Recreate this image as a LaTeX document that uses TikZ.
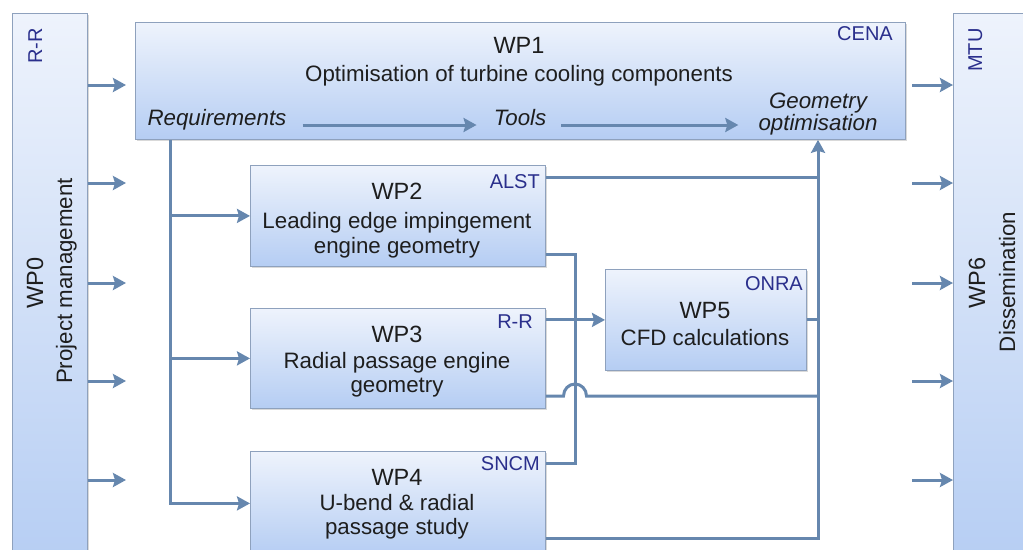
\documentclass[tikz,border=0pt]{standalone}
\usepackage{fontspec}
\setmainfont{Liberation Sans}
\usetikzlibrary{arrows.meta,shadows}
\definecolor{boxtop}{HTML}{EEF3FC}
\definecolor{boxbot}{HTML}{B5CDF3}
\definecolor{bordc}{HTML}{8EA1BD}
\definecolor{linec}{HTML}{6687AE}
\definecolor{navy}{HTML}{2A2F8C}
\definecolor{txtc}{HTML}{1E1E1E}
\begin{document}
\begin{tikzpicture}[x=1pt,y=-1pt,
  box/.style={draw=bordc, line width=0.8pt, top color=boxtop, bottom color=boxbot,
    anchor=north west, inner sep=0pt,
    drop shadow={shadow xshift=2pt, shadow yshift=-2pt, opacity=0.25, fill=black!60}},
  conn/.style={draw=linec, line width=3pt},
  arr/.style={conn, -{Stealth[length=13pt,width=14pt,inset=2pt]}},
  ttl/.style={font=\fontsize{23.5}{24}\selectfont, text=txtc, anchor=base, inner sep=0pt},
  body/.style={font=\fontsize{22.3}{24}\selectfont, text=txtc, anchor=base, inner sep=0pt},
  ibody/.style={body, font=\fontsize{22.3}{24}\selectfont\itshape},
  lab/.style={font=\fontsize{20}{20}\selectfont, text=navy, anchor=base east, inner sep=0pt},
  rlab/.style={font=\fontsize{20}{20}\selectfont, text=navy, anchor=base, inner sep=0pt, rotate=90},
]
\useasboundingbox (0,0) rectangle (1023,549);
\clip (0,0) rectangle (1023,549);

% boxes
\node[box, minimum width=75pt, minimum height=560pt] (wp0) at (12,13) {};
\node[box, minimum width=770pt, minimum height=117pt] (wp1) at (135,22) {};
\node[box, minimum width=90pt, minimum height=560pt] (wp6) at (953,13) {};
\node[box, minimum width=295pt, minimum height=101pt] (wp2) at (250,165) {};
\node[box, minimum width=295pt, minimum height=100pt] (wp3) at (250,308) {};
\node[box, minimum width=295pt, minimum height=104pt] (wp4) at (250,451) {};
\node[box, minimum width=201pt, minimum height=101pt] (wp5) at (605,269) {};

% WP0 texts
\node[rlab] (rr0) at (42,46) {R-R};
\node[ttl, rotate=90] (wp0t) at (43,283) {WP0};
\node[body, rotate=90] (wp0d) at (72,281) {Project management};

% WP6 texts
\node[rlab] (mtu) at (982,50) {MTU};
\node[ttl, rotate=90] (wp6t) at (985,283) {WP6};
\node[body, rotate=90] (wp6d) at (1015,282) {Dissemination};

% WP1 texts
\node[ttl] (wp1t) at (519,53) {WP1};
\node[body] (wp1d) at (519,81) {Optimisation of turbine cooling components};
\node[lab] (cena) at (893,40) {CENA};
\node[ibody] (req) at (217,125) {Requirements};
\node[ibody] (tools) at (520,125) {Tools};
\node[ibody] (geo1) at (818,108) {Geometry};
\node[ibody] (geo2) at (818,130) {optimisation};

% WP2
\node[ttl] (wp2t) at (397,199) {WP2};
\node[body] (wp2a) at (397,228) {Leading edge impingement};
\node[body] (wp2b) at (397,253) {engine geometry};
\node[lab] (alst) at (540,188) {ALST};
% WP3
\node[ttl] (wp3t) at (397,342) {WP3};
\node[body] (wp3a) at (397,368) {Radial passage engine};
\node[body] (wp3b) at (397,392) {geometry};
\node[lab] (rr3) at (533,328) {R-R};
% WP4
\node[ttl] (wp4t) at (397,485) {WP4};
\node[body] (wp4a) at (397,510) {U-bend \& radial};
\node[body] (wp4b) at (397,534) {passage study};
\node[lab] (sncm) at (540,470) {SNCM};
% WP5
\node[ttl] (wp5t) at (705,318) {WP5};
\node[body] (wp5a) at (705,345) {CFD calculations};
\node[lab] (onra) at (803,290) {ONRA};

% arrows inside WP1
\draw[arr, shorten <=16pt, shorten >=17pt] (req.base east) -- (tools.base west);
\draw[arr, shorten <=15pt, shorten >=20pt] (tools.base east) -- (tools.base east -| geo2.west);

% coordinates
\coordinate (rq) at (170,0);
\coordinate (bus) at (818,538);
\coordinate (a2) at (818,177);
\coordinate (v1) at (575,254);
\coordinate (v2) at (575,463);
\coordinate (hop) at (575,396);

% WP0 / WP6 arrows
\foreach \yy in {85,183,283,381,480} {
  \coordinate (p\yy) at (126,\yy);
  \coordinate (q\yy) at (912,\yy);
  \draw[arr] (wp0.east |- p\yy) -- (p\yy);
  \draw[arr] (q\yy) -- (wp6.west |- q\yy);
}

% requirements distribution
\draw[arr] (wp1.south -| rq) -- (rq |- wp4.west) -- (wp4.west);
\draw[arr] (rq |- wp2.west) -- (wp2.west);
\draw[arr] (rq |- wp3.west) -- (wp3.west);

% WP2 - WP4 link
\draw[conn] (wp2.east |- v1) -- (v1) -- (v2) -- (wp4.east |- v2);
% WP3 -> WP5
\draw[arr] (wp3.east |- wp5.west) -- (wp5.west);
% to geometry optimisation
\draw[conn] (wp2.east |- a2) -- (a2);
\draw[conn] (wp5.east) -- (wp5.east -| bus);
\draw[conn] (wp3.east |- hop) -- ([xshift=-11.5pt]hop)
  arc[start angle=180, end angle=0, x radius=11.5pt, y radius=12pt] -- (hop -| bus);
\draw[arr] (wp4.east |- bus) -- (bus) -- (bus |- wp1.south);
\end{tikzpicture}
\end{document}
